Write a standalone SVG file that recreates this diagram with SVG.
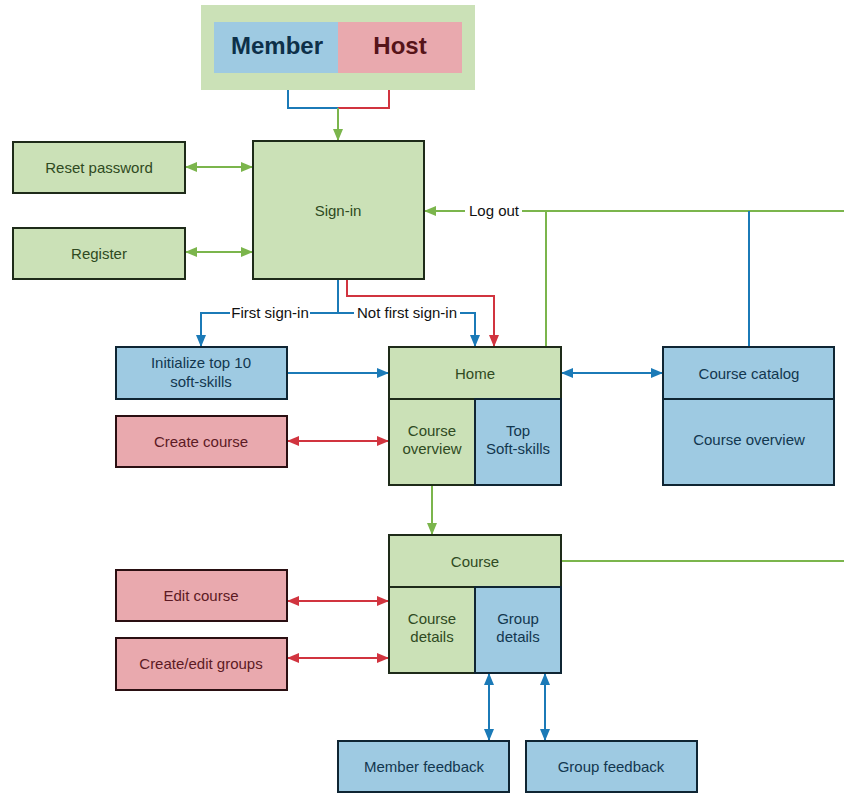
<svg xmlns="http://www.w3.org/2000/svg" width="844" height="794" viewBox="0 0 844 794">
  <style>
    text { font-family: "Liberation Sans", Arial, sans-serif; font-size: 15px; text-anchor: middle; dominant-baseline: central; }
    .g { fill: #cbe1b7; stroke: #1e2b19; stroke-width: 2; }
    .b { fill: #9ecae2; stroke: #0f2533; stroke-width: 2; }
    .r { fill: #e9a9ae; stroke: #2a0f12; stroke-width: 2; }
    .tg { fill: #2f4a22; }
    .tb { fill: #12374f; }
    .tr { fill: #5c1a24; }
    .lg { stroke: #7bb54c; stroke-width: 2; fill: none; }
    .lb { stroke: #1b7ab7; stroke-width: 2; fill: none; }
    .lr { stroke: #d1343f; stroke-width: 2; fill: none; }
    .lbl { fill: #111; }
  </style>
  <defs>
    <marker id="ag" viewBox="0 0 12 10" refX="12" refY="5" markerWidth="12" markerHeight="10" markerUnits="userSpaceOnUse" orient="auto-start-reverse"><path d="M0,0 L12,5 L0,10 Z" fill="#7bb54c"/></marker>
    <marker id="ab" viewBox="0 0 12 10" refX="12" refY="5" markerWidth="12" markerHeight="10" markerUnits="userSpaceOnUse" orient="auto-start-reverse"><path d="M0,0 L12,5 L0,10 Z" fill="#1b7ab7"/></marker>
    <marker id="ar" viewBox="0 0 12 10" refX="12" refY="5" markerWidth="12" markerHeight="10" markerUnits="userSpaceOnUse" orient="auto-start-reverse"><path d="M0,0 L12,5 L0,10 Z" fill="#d1343f"/></marker>
  </defs>
  <rect width="844" height="794" fill="#ffffff"/>

  <!-- connectors -->
  <g id="connectors">
    <path class="lb" d="M288,73 V108 H338"/>
    <path class="lr" d="M389,73 V108 H338"/>
    <path class="lg" d="M338,108 V141" marker-end="url(#ag)"/>
    <path class="lg" d="M185,167 H253" marker-start="url(#ag)" marker-end="url(#ag)"/>
    <path class="lg" d="M185,252 H253" marker-start="url(#ag)" marker-end="url(#ag)"/>
    <path class="lg" d="M844,211 H424" marker-end="url(#ag)"/>
    <path class="lg" d="M546,347 V211"/>
    <path class="lb" d="M749,347 V211"/>
    <path class="lb" d="M338,279 V313 H201 V347" marker-end="url(#ab)"/>
    <path class="lb" d="M338,313 H475 V347" marker-end="url(#ab)"/>
    <path class="lr" d="M347,279 V296 H494 V347" marker-end="url(#ar)"/>
    <path class="lb" d="M287,373 H389" marker-end="url(#ab)"/>
    <path class="lr" d="M287,441 H389" marker-start="url(#ar)" marker-end="url(#ar)"/>
    <path class="lb" d="M561,373 H663" marker-start="url(#ab)" marker-end="url(#ab)"/>
    <path class="lg" d="M432,485 V535" marker-end="url(#ag)"/>
    <path class="lg" d="M561,561 H844"/>
    <path class="lr" d="M287,601 H389" marker-start="url(#ar)" marker-end="url(#ar)"/>
    <path class="lr" d="M287,658 H389" marker-start="url(#ar)" marker-end="url(#ar)"/>
    <path class="lb" d="M489,673 V741" marker-start="url(#ab)" marker-end="url(#ab)"/>
    <path class="lb" d="M545,673 V741" marker-start="url(#ab)" marker-end="url(#ab)"/>
    <rect x="465" y="201" width="57" height="18" fill="#ffffff"/>
    <text class="lbl" x="494" y="210">Log out</text>
    <rect x="230" y="303" width="80" height="18" fill="#ffffff"/>
    <text class="lbl" x="270" y="312">First sign-in</text>
    <rect x="354" y="303" width="106" height="18" fill="#ffffff"/>
    <text class="lbl" x="407" y="312">Not first sign-in</text>
  </g>

  <g id="roles">
    <rect x="201" y="5" width="274" height="85" fill="#cbe1b7"/>
    <rect x="214" y="22" width="124" height="51" fill="#9ecae2"/>
    <rect x="338" y="22" width="124" height="51" fill="#e9a9ae"/>
    <text x="277" y="45" style="font-size:24px;font-weight:bold;fill:#0d3049">Member</text>
    <text x="400" y="45" style="font-size:24px;font-weight:bold;fill:#561419">Host</text>
  </g>

  <g id="signin">
    <rect class="g" x="253" y="141" width="171" height="138"/>
    <text class="tg" x="338" y="210">Sign-in</text>
  </g>
  <g id="reset-password">
    <rect class="g" x="13" y="142" width="172" height="51"/>
    <text class="tg" x="99" y="167">Reset password</text>
  </g>
  <g id="register">
    <rect class="g" x="13" y="228" width="172" height="51"/>
    <text class="tg" x="99" y="253">Register</text>
  </g>
  <g id="init-skills">
    <rect class="b" x="116" y="347" width="171" height="52"/>
    <text class="tb" x="201" y="362">Initialize top 10</text>
    <text class="tb" x="201" y="381">soft-skills</text>
  </g>
  <g id="create-course">
    <rect class="r" x="116" y="416" width="171" height="51"/>
    <text class="tr" x="201" y="441">Create course</text>
  </g>
  <g id="home">
    <rect class="g" x="389" y="347" width="172" height="52"/>
    <text class="tg" x="475" y="373">Home</text>
    <rect class="g" x="389" y="399" width="86" height="86"/>
    <text class="tg" x="432" y="430">Course</text>
    <text class="tg" x="432" y="448">overview</text>
    <rect class="b" x="475" y="399" width="86" height="86"/>
    <text class="tb" x="518" y="430">Top</text>
    <text class="tb" x="518" y="448">Soft-skills</text>
  </g>
  <g id="course-catalog">
    <rect class="b" x="663" y="347" width="171" height="52"/>
    <text class="tb" x="749" y="373">Course catalog</text>
    <rect class="b" x="663" y="399" width="171" height="86"/>
    <text class="tb" x="749" y="439">Course overview</text>
  </g>
  <g id="course">
    <rect class="g" x="389" y="535" width="172" height="52"/>
    <text class="tg" x="475" y="561">Course</text>
    <rect class="g" x="389" y="587" width="86" height="86"/>
    <text class="tg" x="432" y="618">Course</text>
    <text class="tg" x="432" y="636">details</text>
    <rect class="b" x="475" y="587" width="86" height="86"/>
    <text class="tb" x="518" y="618">Group</text>
    <text class="tb" x="518" y="636">details</text>
  </g>
  <g id="edit-course">
    <rect class="r" x="116" y="570" width="171" height="51"/>
    <text class="tr" x="201" y="595">Edit course</text>
  </g>
  <g id="edit-groups">
    <rect class="r" x="116" y="638" width="171" height="52"/>
    <text class="tr" x="201" y="663">Create/edit groups</text>
  </g>
  <g id="member-feedback">
    <rect class="b" x="338" y="741" width="171" height="51"/>
    <text class="tb" x="424" y="766">Member feedback</text>
  </g>
  <g id="group-feedback">
    <rect class="b" x="526" y="741" width="171" height="51"/>
    <text class="tb" x="611" y="766">Group feedback</text>
  </g>
</svg>
